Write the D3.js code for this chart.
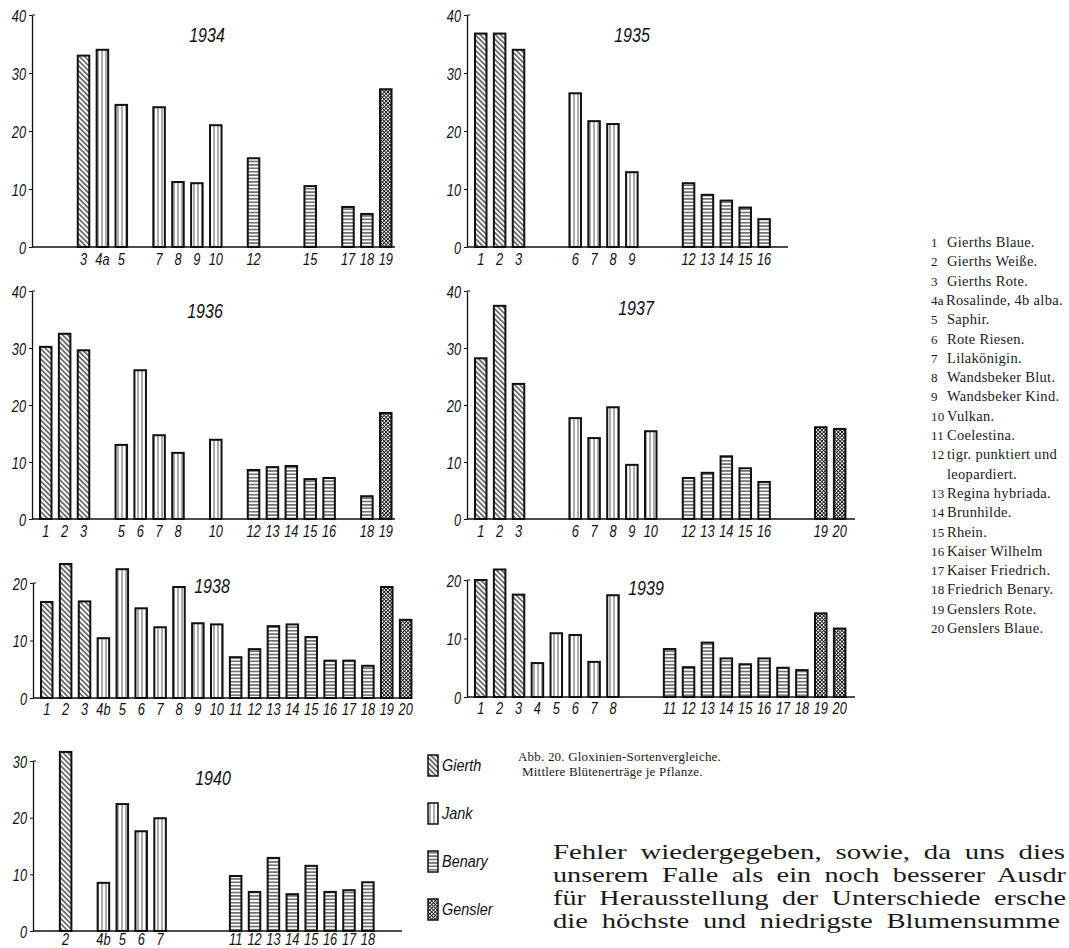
<!DOCTYPE html>
<html>
<head>
<meta charset="utf-8">
<script src="https://cdn.jsdelivr.net/npm/d3@7"></script>
<style>
  body { margin: 0; background: #fff; }
  svg { display: block; }
  .lab { font-family: "Liberation Sans", Arimo, sans-serif; font-style: italic; fill: #111; }
  .serif { font-family: "Liberation Serif", "DejaVu Serif", serif; fill: #1a1a1a; }
</style>
</head>
<body>
<svg id="chart" width="1069" height="948"></svg>
<script>
// ---- data ----
const ids1934 = ["3", "4a", "5", "7", "8", "9", "10", "12", "15", "17", "18", "19"];
const vals1934 = [33, 34, 24.5, 24.1, 11.2, 11, 21, 15.3, 10.5, 6.9, 5.7, 27.2];

const ids1935 = ["1", "2", "3", "6", "7", "8", "9", "12", "13", "14", "15", "16"];
const vals1935 = [36.8, 36.8, 34, 26.5, 21.7, 21.2, 12.9, 11, 9, 8, 6.8, 4.8];

const ids1936 = ["1", "2", "3", "5", "6", "7", "8", "10", "12", "13", "14", "15", "16", "18", "19"];
const vals1936 = [30.2, 32.5, 29.6, 13, 26.1, 14.7, 11.6, 13.9, 8.6, 9.1, 9.3, 7, 7.2, 4, 18.6];

const ids1937 = ["1", "2", "3", "6", "7", "8", "9", "10", "12", "13", "14", "15", "16", "19", "20"];
const vals1937 = [28.2, 37.4, 23.7, 17.7, 14.2, 19.6, 9.5, 15.4, 7.2, 8.1, 11, 8.9, 6.5, 16.1, 15.8];

const ids1938 = ["1", "2", "3", "4b", "5", "6", "7", "8", "9", "10", "11", "12", "13", "14", "15", "16", "17", "18", "19", "20"];
const vals1938 = [16.7, 23.3, 16.8, 10.4, 22.4, 15.6, 12.3, 19.3, 13, 12.8, 7.1, 8.5, 12.5, 12.8, 10.6, 6.5, 6.5, 5.6, 19.3, 13.6];

const ids1939 = ["1", "2", "3", "4", "5", "6", "7", "8", "11", "12", "13", "14", "15", "16", "17", "18", "19", "20"];
const vals1939 = [20, 21.8, 17.5, 5.8, 10.9, 10.6, 6, 17.4, 8.2, 5.1, 9.3, 6.6, 5.6, 6.6, 5, 4.6, 14.3, 11.7];

const ids1940 = ["2", "4b", "5", "6", "7", "11", "12", "13", "14", "15", "16", "17", "18"];
const vals1940 = [31.6, 8.5, 22.4, 17.6, 19.9, 9.7, 6.9, 12.9, 6.5, 11.5, 6.9, 7.2, 8.6];

const ticks40 = [0, 10, 20, 30, 40];
const ticks30 = [0, 10, 20, 30];
const ticks20 = [0, 10, 20];

// breeders and the first variety number belonging to each
const breeders = ["Gierth", "Jank", "Benary", "Gensler"];
const breederFrom = [1, 4, 11, 19];

const varietyNums = ["1", "2", "3", "4a", "5", "6", "7", "8", "9", "10", "11", "12", "", "13", "14", "15", "16", "17", "18", "19", "20"];
const varietyNames = [
  "Gierths Blaue.", "Gierths Weiße.", "Gierths Rote.", "Rosalinde, 4b alba.", "Saphir.",
  "Rote Riesen.", "Lilakönigin.", "Wandsbeker Blut.", "Wandsbeker Kind.", "Vulkan.",
  "Coelestina.", "tigr. punktiert und", "leopardiert.", "Regina hybriada.", "Brunhilde.",
  "Rhein.", "Kaiser Wilhelm", "Kaiser Friedrich.", "Friedrich Benary.", "Genslers Rote.",
  "Genslers Blaue."
];

const caption = ["Abb. 20. Gloxinien-Sortenvergleiche.", "Mittlere Blütenerträge je Pflanze."];
// the page text runs off the right edge of the scan; only the visible part is kept
const bodyText = [
  "Fehler wiedergegeben, sowie, da uns dies",
  "unserem Falle als ein noch besserer Ausdr",
  "für Herausstellung der Unterschiede ersche",
  "die höchste und niedrigste Blumensumme"
];

// ---- layout ----
const panels = [
  { year: "1934", ids: ids1934, vals: vals1934, ticks: ticks40, ax: 32, y0: 247, yTop: 15, xEnd: 395, tx: 207, ty: 42, ldy: 18 },
  { year: "1935", ids: ids1935, vals: vals1935, ticks: ticks40, ax: 467, y0: 247, yTop: 15, xEnd: 788, tx: 632, ty: 42, ldy: 18 },
  { year: "1936", ids: ids1936, vals: vals1936, ticks: ticks40, ax: 32, y0: 519, yTop: 291, xEnd: 395, tx: 205, ty: 318, ldy: 18 },
  { year: "1937", ids: ids1937, vals: vals1937, ticks: ticks40, ax: 467, y0: 519, yTop: 291, xEnd: 855, tx: 636, ty: 315, ldy: 18 },
  { year: "1938", ids: ids1938, vals: vals1938, ticks: ticks20, ax: 33, y0: 698, yTop: 583, xEnd: 410, tx: 212, ty: 593, ldy: 17 },
  { year: "1939", ids: ids1939, vals: vals1939, ticks: ticks20, ax: 467, y0: 697, yTop: 580, xEnd: 855, tx: 646, ty: 595, ldy: 17 },
  { year: "1940", ids: ids1940, vals: vals1940, ticks: ticks30, ax: 33, y0: 931, yTop: 761, xEnd: 402, tx: 213, ty: 785, ldy: 14 }
];
const bodyWidths = [512, 513, 513, 507];

const ink = "#111";
const squeeze = 0.8;   // the figure uses a narrow italic lettering
const svg = d3.select("#chart");

// hatch patterns
const defs = svg.append("defs");
function hatch(id, size, angle, lines, sw) {
  const p = defs.append("pattern")
    .attr("id", id)
    .attr("patternUnits", "userSpaceOnUse")
    .attr("width", size).attr("height", size)
    .attr("patternTransform", "rotate(" + angle + ")");
  p.append("rect").attr("width", size).attr("height", size).attr("fill", "#fff");
  lines.forEach(l => {
    p.append("line")
      .attr("x1", l[0]).attr("y1", l[1]).attr("x2", l[2]).attr("y2", l[3])
      .attr("stroke", ink).attr("stroke-width", sw);
  });
}
hatch("pat-Gierth", 3.6, -45, [[1.8, 0, 1.8, 3.6]], 1.1);
hatch("pat-Jank", 4, 0, [[2, 0, 2, 4]], 0.7);
hatch("pat-Benary", 3.4, 0, [[0, 1.7, 3.4, 1.7]], 1.0);
hatch("pat-Gensler", 2.6, 45, [[1.3, 0, 1.3, 2.6], [0, 1.3, 2.6, 1.3]], 0.9);

function breederOf(id) {
  const n = parseInt(id);
  let b = 0;
  breederFrom.forEach((f, i) => { if (n >= f) b = i; });
  return breeders[b];
}

function narrow(x, y, s) {
  return "translate(" + x + "," + y + ") scale(" + (s || squeeze) + ",1)";
}

panels.forEach(p => {
  const g = svg.append("g");

  const x = d3.scaleBand()
    .domain(d3.range(1, 21))
    .range([p.ax + 4.2, p.ax + 4.2 + 378])
    .paddingInner(0.39)
    .paddingOuter(0.2);

  const y = d3.scaleLinear()
    .domain([0, d3.max(p.ticks)])
    .range([p.y0, p.yTop]);

  const rows = p.ids.map((id, i) => ({ id: id, v: p.vals[i], slot: parseInt(id) }));

  // bars
  g.selectAll("rect.bar").data(rows).enter().append("rect")
    .attr("class", "bar")
    .attr("x", d => x(d.slot))
    .attr("width", x.bandwidth())
    .attr("y", d => y(d.v))
    .attr("height", d => y(0) - y(d.v))
    .attr("fill", d => "url(#pat-" + breederOf(d.id) + ")")
    .attr("stroke", ink)
    .attr("stroke-width", 2);

  // y axis
  const yAxis = g.append("g")
    .attr("transform", "translate(" + p.ax + ",0)")
    .call(d3.axisLeft(y).tickValues(p.ticks).tickSize(3).tickSizeOuter(0).tickFormat(d3.format("d")));
  yAxis.select(".domain").attr("stroke", ink).attr("stroke-width", 1.3);
  yAxis.selectAll(".tick line").attr("stroke", ink).attr("stroke-width", 1);
  yAxis.selectAll(".tick text")
    .attr("class", "lab")
    .attr("x", 0).attr("dy", null)
    .attr("transform", narrow(-6, 6))
    .style("font-size", "16px")
    .style("font-family", null);
  // little cap at the top of the scale
  g.append("line")
    .attr("x1", p.ax).attr("x2", p.ax + 3)
    .attr("y1", p.yTop).attr("y2", p.yTop)
    .attr("stroke", ink).attr("stroke-width", 1);

  // x axis line
  g.append("line")
    .attr("x1", p.ax).attr("x2", p.xEnd)
    .attr("y1", p.y0).attr("y2", p.y0)
    .attr("stroke", ink).attr("stroke-width", 1.6);

  // category labels
  g.selectAll("text.xl").data(rows).enter().append("text")
    .attr("class", "lab xl")
    .attr("transform", d => narrow(x(d.slot) + x.bandwidth() / 2, p.y0 + p.ldy))
    .attr("text-anchor", "middle")
    .style("font-size", "16px")
    .text(d => d.id);

  // year
  g.append("text")
    .attr("class", "lab")
    .attr("transform", narrow(p.tx, p.ty, 0.8))
    .attr("text-anchor", "middle")
    .style("font-size", "20px")
    .text(p.year);
});

// legend
const leg = svg.append("g").attr("transform", "translate(428,755)");
const legItems = leg.selectAll("g").data(breeders).enter().append("g")
  .attr("transform", (d, i) => "translate(0," + (i * 48) + ")");
legItems.append("rect")
  .attr("width", 10).attr("height", 21)
  .attr("fill", d => "url(#pat-" + d + ")")
  .attr("stroke", ink).attr("stroke-width", 1.5);
legItems.append("text")
  .attr("class", "lab")
  .attr("transform", narrow(14, 16, 0.85))
  .style("font-size", "17px")
  .text(d => d);

// caption
svg.selectAll("text.cap").data(caption).enter().append("text")
  .attr("class", "serif cap")
  .attr("x", (d, i) => 518 + i * 4)
  .attr("y", (d, i) => 761 + i * 15)
  .style("font-size", "13px")
  .style("letter-spacing", "0.2px")
  .text(d => d);

// variety list on the right
const list = svg.append("g").attr("class", "serif").style("font-size", "14.5px").style("letter-spacing", "0.3px");
list.selectAll("text.num").data(varietyNums).enter().append("text")
  .attr("class", "num")
  .attr("x", 931)
  .attr("y", (d, i) => 247 + i * 19.3)
  .style("font-size", "13px")
  .text(d => d);
list.selectAll("text.name").data(varietyNames).enter().append("text")
  .attr("class", "name")
  .attr("x", (d, i) => varietyNums[i] === "4a" ? 946 : 947)
  .attr("y", (d, i) => 247 + i * 19.3)
  .text(d => d);

// running text below
svg.selectAll("text.body").data(bodyText).enter().append("text")
  .attr("class", "serif body")
  .attr("x", 553)
  .attr("y", (d, i) => 859 + i * 23)
  .attr("textLength", (d, i) => bodyWidths[i])
  .attr("lengthAdjust", "spacingAndGlyphs")
  .style("font-size", "22px")
  .style("word-spacing", "5px")
  .text(d => d);
</script>
</body>
</html>
